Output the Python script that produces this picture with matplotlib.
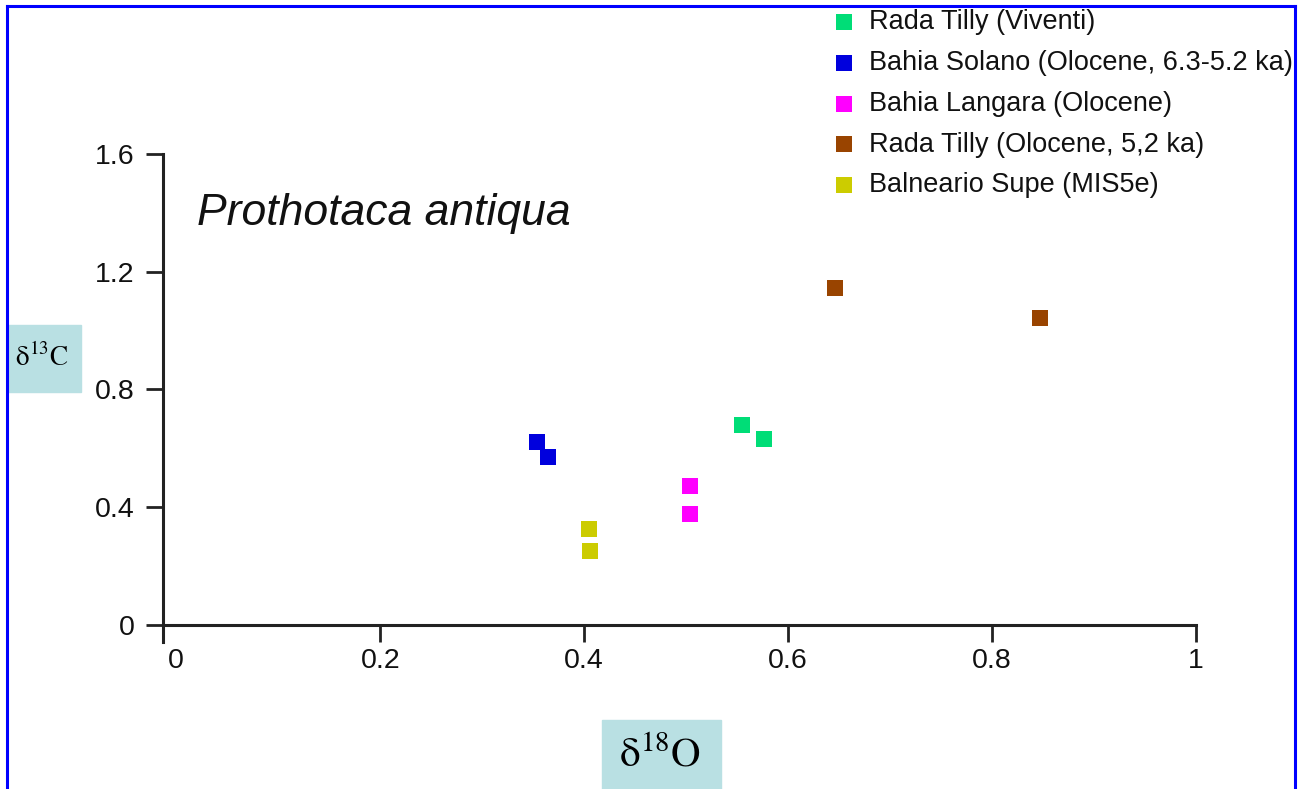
import matplotlib
matplotlib.use("Agg")
import matplotlib.pyplot as plt
from matplotlib.lines import Line2D
from matplotlib.patches import Rectangle

plt.rcParams['font.family'] = ['Liberation Sans', 'DejaVu Sans']
plt.rcParams['mathtext.fontset'] = 'stix'

# data (d18O, d13C) per site
labels = ["Rada Tilly (Viventi)",
          "Bahia Solano (Olocene, 6.3-5.2 ka)",
          "Bahia Langara (Olocene)",
          "Rada Tilly (Olocene, 5,2 ka)",
          "Balneario Supe (MIS5e)"]
colors = ["#00dd77", "#0000dd", "#ff00ff", "#994400", "#cccc00"]
d18o = [[0.555, 0.576], [0.354, 0.365], [0.504, 0.504], [0.646, 0.847], [0.405, 0.406]]
d13c = [[0.68, 0.633], [0.622, 0.571], [0.473, 0.378], [1.146, 1.044], [0.327, 0.252]]

xticks = [0, 0.2, 0.4, 0.6, 0.8, 1]
xticklabels = ["0", "0.2", "0.4", "0.6", "0.8", "1"]
yticks = [0, 0.4, 0.8, 1.2, 1.6]
yticklabels = ["0", "0.4", "0.8", "1.2", "1.6"]

W, H = 1304, 789
fig = plt.figure(figsize=(W / 100, H / 100), dpi=100)
ax = fig.add_axes([163 / W, (H - 642) / H, (1196 - 163) / W, (642 - 154) / H])

for lab, c, xs, ys in zip(labels, colors, d18o, d13c):
    ax.scatter(xs, ys, marker='s', s=(16.5 * 0.72) ** 2, color=c, label=lab,
               linewidths=0, zorder=3)

ax.set_xlim(-0.013, 1.0)
ax.set_ylim(-0.058, 1.6)
ax.spines['top'].set_visible(False)
ax.spines['right'].set_visible(False)
ax.spines['bottom'].set_position(('data', 0))
for sp in ['left', 'bottom']:
    ax.spines[sp].set_linewidth(2.2)
    ax.spines[sp].set_color('#222222')

ax.set_xticks(xticks)
ax.set_xticklabels(xticklabels)
ax.set_yticks(yticks)
ax.set_yticklabels(yticklabels)
ax.tick_params(direction='out', length=12.5, width=2, color='#222222',
               labelsize=20.5, labelcolor='#111111')
ax.tick_params(axis='x', pad=4)
ax.tick_params(axis='y', pad=8)
ax.xaxis.get_major_ticks()[0].tick1line.set_visible(False)

ax.text(197 / W, (H - 214) / H, "Prothotaca antiqua", transform=fig.transFigure,
        fontsize=32, style='italic', ha='left', va='center', color='#111111')

leg = fig.legend(loc='upper left', bbox_to_anchor=(820 / W, 1 + 2 / H),
                 frameon=False, fontsize=19.5, handletextpad=0.4,
                 labelspacing=0.55, handlelength=1.0, borderaxespad=0,
                 markerscale=0.95)
for t in leg.get_texts():
    t.set_color('#111111')

# axis label boxes
box = '#b9e0e3'
fig.patches.append(Rectangle((8 / W, (H - 392) / H), 73 / W, 67 / H,
                             transform=fig.transFigure, color=box, zorder=0))
fig.text(42 / W, (H - 358) / H, r'$\mathrm{\delta^{13}C}$', fontsize=19.5,
         ha='center', va='center')
fig.patches.append(Rectangle((602 / W, 0), 119 / W, 69 / H,
                             transform=fig.transFigure, color=box, zorder=0))
fig.text(660 / W, (H - 755) / H, r'$\mathrm{\delta^{18}O}$', fontsize=29.5,
         ha='center', va='center')

# blue frame
frame = dict(color='#0000ff', linewidth=2.2, transform=fig.transFigure)
fig.add_artist(Line2D([7 / W, 7 / W], [0, 1 - 6 / H], **frame))
fig.add_artist(Line2D([7 / W, 1295 / W], [1 - 6 / H, 1 - 6 / H], **frame))
fig.add_artist(Line2D([1295 / W, 1295 / W], [0, 1 - 6 / H], **frame))

fig.savefig("out.png", dpi=100)
